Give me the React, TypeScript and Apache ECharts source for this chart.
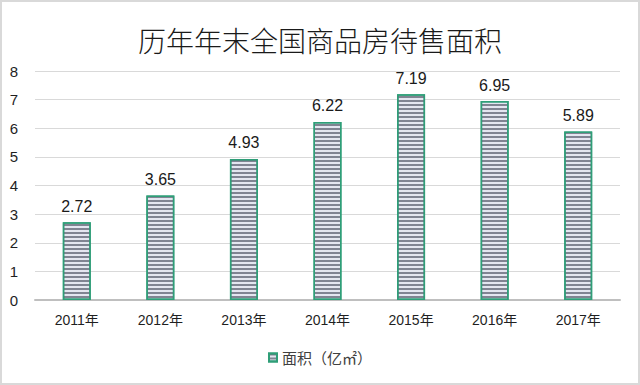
import React, { useEffect, useRef } from "react";
import * as echarts from "echarts";

const categories = ["2011年", "2012年", "2013年", "2014年", "2015年", "2016年", "2017年"];
const areaValues = [2.72, 3.65, 4.93, 6.22, 7.19, 6.95, 5.89];
const seriesName = "面积（亿㎡）";
const titleText = "历年年末全国商品房待售面积";

export default function App() {
  const ref = useRef<HTMLDivElement>(null);
  useEffect(() => {
    document.body.style.margin = "0";
    const chart = echarts.init(ref.current!, null, { renderer: "svg" });
    chart.setOption({
      animation: false,
      backgroundColor: "#ffffff",
      title: {
        text: titleText,
        left: "center",
        top: 21,
        textStyle: {
          fontFamily: "Noto Sans CJK SC",
          fontSize: 28,
          fontWeight: 300,
          color: "#1a1a1a",
        },
      },
      graphic: [
        {
          type: "rect",
          shape: { x: 1, y: 1, width: 638, height: 383 },
          style: { fill: "none", stroke: "#d9d9d9", lineWidth: 2 },
          silent: true,
        },
      ],
      legend: {
        bottom: 15,
        left: "center",
        icon: "rect",
        itemWidth: 8,
        itemHeight: 8,
        itemGap: 4,
        textStyle: { fontFamily: "Noto Sans CJK SC", fontSize: 15, color: "#404040" },
        data: [seriesName],
      },
      grid: { left: 35, right: 20, top: 71, bottom: 85, containLabel: false },
      xAxis: {
        type: "category",
        data: categories,
        axisTick: { show: false },
        axisLine: { lineStyle: { color: "#bfbfbf", width: 2 } },
        axisLabel: {
          fontFamily: "Liberation Sans, Noto Sans CJK SC",
          fontSize: 14,
          color: "#1f1f1f",
          margin: 13,
        },
      },
      yAxis: {
        type: "value",
        min: 0,
        max: 8,
        interval: 1,
        axisLine: { show: false },
        axisTick: { show: false },
        splitLine: { lineStyle: { color: "#d9d9d9", width: 1 } },
        axisLabel: {
          fontFamily: "Liberation Sans",
          fontSize: 15,
          color: "#1f1f1f",
          margin: 17,
        },
      },
      series: [
        {
          name: seriesName,
          type: "bar",
          data: areaValues,
          barWidth: 28,
          itemStyle: {
            color: "#e4e6f0",
            borderColor: "#2f9e78",
            borderWidth: 1.5,
            decal: {
              symbol: "rect",
              symbolSize: 1,
              dashArrayX: [1, 0],
              dashArrayY: [1.5, 1.5],
              rotation: 0,
              color: "rgba(95,98,115,0.75)",
            },
          },
          label: {
            show: true,
            position: "top",
            distance: 8,
            fontFamily: "Liberation Sans",
            fontSize: 16,
            color: "#1a1a1a",
          },
        },
      ],
    });
    return () => chart.dispose();
  }, []);
  return <div ref={ref} style={{ width: 640, height: 385 }} />;
}
